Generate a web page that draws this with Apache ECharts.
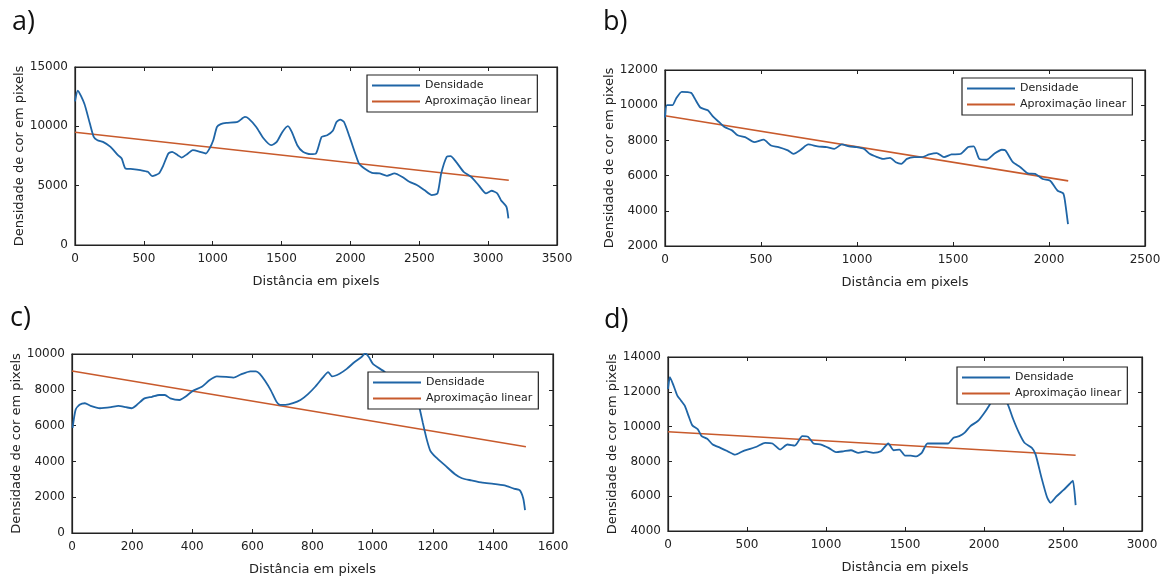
<!DOCTYPE html>
<html>
<head>
<meta charset="utf-8">
<script src="https://cdn.jsdelivr.net/npm/echarts@6/dist/echarts.min.js"></script>
<style>
html,body{margin:0;padding:0;background:#fff;}
#chart{width:1168px;height:577px;}
</style>
</head>
<body>
<div id="chart"></div>
<script>
// ---- Data ----
const panelLabels = ['a)', 'b)', 'c)', 'd)'];
const seriesNames = ['Densidade', 'Aproximação linear'];
const xAxisName = 'Distância em pixels';
const yAxisName = 'Densidade de cor em pixels';

// Panel a
const aX = [0, 20, 68, 108, 136, 163, 203, 258, 312, 339, 366, 420, 475, 529, 560, 610, 637, 678, 705, 746, 773, 814, 855, 909, 950, 977, 1004, 1031, 1058, 1099, 1180, 1234, 1261, 1316, 1370, 1424, 1465, 1506, 1546, 1574, 1614, 1655, 1709, 1750, 1791, 1831, 1872, 1899, 1926, 1953, 1994, 2035, 2062, 2102, 2157, 2211, 2265, 2320, 2374, 2428, 2482, 2537, 2591, 2632, 2659, 2699, 2727, 2767, 2822, 2876, 2930, 2984, 3025, 3066, 3093, 3133, 3147];
const aY = [12100, 13000, 11900, 10230, 9110, 8830, 8690, 8270, 7570, 7290, 6450, 6400, 6310, 6170, 5800, 6030, 6590, 7710, 7850, 7570, 7370, 7650, 7990, 7850, 7710, 8130, 8830, 9950, 10180, 10290, 10370, 10790, 10650, 9950, 8970, 8410, 8690, 9530, 10010, 9530, 8410, 7850, 7650, 7710, 9110, 9250, 9620, 10370, 10570, 10370, 9110, 7710, 6870, 6450, 6080, 6030, 5830, 6030, 5750, 5330, 5050, 4630, 4210, 4350, 6030, 7430, 7490, 7010, 6170, 5750, 5050, 4350, 4570, 4350, 3780, 3220, 2240];
const aFitX = [0, 3150];
const aFitY = [9500, 5450];

// Panel b
const bX = [0, 10, 39, 58, 87, 136, 155, 184, 223, 252, 281, 310, 349, 378, 417, 465, 514, 552, 591, 640, 669, 707, 746, 795, 843, 882, 921, 959, 998, 1037, 1066, 1105, 1134, 1172, 1202, 1231, 1260, 1298, 1337, 1376, 1415, 1453, 1492, 1541, 1579, 1608, 1637, 1676, 1715, 1754, 1773, 1812, 1851, 1890, 1928, 1967, 2006, 2045, 2074, 2083, 2099];
const bY = [9300, 10000, 10000, 10380, 10760, 10700, 10380, 9870, 9710, 9330, 9050, 8760, 8570, 8290, 8190, 7900, 8040, 7710, 7620, 7430, 7240, 7470, 7770, 7660, 7620, 7520, 7770, 7660, 7620, 7520, 7240, 7050, 6950, 7010, 6760, 6670, 6950, 7050, 7050, 7200, 7280, 7050, 7200, 7240, 7620, 7660, 6950, 6900, 7240, 7470, 7430, 6760, 6480, 6130, 6100, 5810, 5710, 5140, 4990, 4570, 3240];
const bFitX = [0, 2100];
const bFitY = [9400, 5700];

// Panel c
const cX = [2, 12, 25, 43, 62, 93, 130, 154, 179, 198, 216, 241, 266, 290, 309, 327, 358, 377, 402, 432, 457, 482, 513, 537, 562, 593, 612, 624, 642, 661, 680, 692, 710, 735, 760, 785, 809, 834, 852, 865, 890, 914, 939, 964, 976, 988, 1001, 1040, 1080, 1120, 1149, 1155, 1167, 1180, 1192, 1211, 1242, 1273, 1297, 1328, 1365, 1402, 1439, 1470, 1489, 1501, 1507];
const cY = [5870, 6880, 7160, 7250, 7100, 6970, 7030, 7100, 7030, 6970, 7160, 7520, 7610, 7710, 7710, 7520, 7430, 7610, 7940, 8170, 8530, 8750, 8720, 8680, 8860, 9030, 9030, 8900, 8500, 7980, 7340, 7160, 7160, 7250, 7430, 7760, 8170, 8680, 8990, 8750, 8900, 9170, 9540, 9850, 10040, 9820, 9450, 9000, 8400, 7800, 7430, 7060, 6150, 5230, 4590, 4220, 3760, 3300, 3060, 2940, 2810, 2750, 2660, 2480, 2390, 1930, 1280];
const cFitX = [0, 1510];
const cFitY = [9050, 4820];

// Panel d
const dX = [0, 12, 35, 59, 83, 106, 130, 154, 189, 213, 248, 283, 331, 378, 425, 472, 520, 567, 614, 661, 709, 756, 803, 850, 886, 921, 969, 1016, 1063, 1110, 1158, 1205, 1252, 1299, 1347, 1394, 1429, 1465, 1500, 1536, 1571, 1606, 1642, 1689, 1736, 1772, 1807, 1843, 1878, 1914, 1961, 1996, 2032, 2055, 2075, 2095, 2126, 2150, 2185, 2221, 2256, 2303, 2327, 2362, 2398, 2421, 2457, 2504, 2551, 2563, 2580];
const dY = [12160, 12840, 12360, 11780, 11490, 11200, 10620, 10070, 9840, 9450, 9300, 8970, 8780, 8580, 8390, 8580, 8720, 8870, 9070, 9030, 8680, 8970, 8910, 9450, 9420, 9030, 8970, 8780, 8530, 8580, 8640, 8490, 8580, 8490, 8580, 9030, 8640, 8680, 8330, 8330, 8290, 8490, 9030, 9030, 9030, 9030, 9360, 9450, 9650, 10030, 10320, 10710, 11200, 11580, 11850, 11950, 11580, 11290, 10420, 9650, 9070, 8780, 8390, 7130, 5970, 5620, 5970, 6360, 6790, 6900, 5490];
const dFitX = [0, 2580];
const dFitY = [9700, 8350];

// Axis ranges / ticks
const xMin = [0, 0, 0, 0];
const xMax = [3500, 2500, 1600, 3000];
const xStep = [500, 500, 200, 500];
const yMin = [0, 2000, 0, 4000];
const yMax = [15000, 12000, 10000, 14000];
const yStep = [5000, 2000, 2000, 2000];

// ---- Layout ----
const grids = [
  {left: 75, top: 67, width: 482, height: 178},
  {left: 665, top: 70, width: 480, height: 176},
  {left: 72, top: 354, width: 481, height: 179},
  {left: 668, top: 357, width: 474, height: 174}
];
const legendPos = [
  {left: 367, top: 75},
  {left: 962, top: 78},
  {left: 368, top: 372},
  {left: 957, top: 367}
];
const labelPos = [
  {left: 12, top: 9},
  {left: 603, top: 9},
  {left: 10, top: 305},
  {left: 604, top: 307}
];

const BLUE = '#1f65a6';
const ORANGE = '#c85a2c';
const FONT = 'DejaVu Sans';
const plain = v => String(v);

const zip = (xs, ys) => xs.map((x, i) => [x, ys[i]]);
const blues = [zip(aX, aY), zip(bX, bY), zip(cX, cY), zip(dX, dY)];
const fits = [zip(aFitX, aFitY), zip(bFitX, bFitY), zip(cFitX, cFitY), zip(dFitX, dFitY)];

const option = {
  animation: false,
  backgroundColor: '#fff',
  grid: grids.map(g => Object.assign({show: true, borderColor: '#222', borderWidth: 1.2, backgroundColor: 'rgba(0,0,0,0)'}, g)),
  xAxis: [],
  yAxis: [],
  legend: [],
  series: [],
  graphic: []
};

for (let i = 0; i < 4; i++) {
  option.xAxis.push({
    type: 'value', gridIndex: i, min: xMin[i], max: xMax[i], interval: xStep[i],
    name: xAxisName, nameLocation: 'middle', nameGap: 30,
    nameTextStyle: {fontFamily: FONT, fontSize: 13, color: '#222'},
    axisLine: {show: true, onZero: false, lineStyle: {color: '#222', width: 1.2}},
    axisTick: {show: true, inside: true, length: 4, lineStyle: {color: '#222'}},
    axisLabel: {fontFamily: FONT, fontSize: 12, color: '#222', margin: 8, formatter: plain},
    splitLine: {show: false}
  });
  option.xAxis.push({
    type: 'value', gridIndex: i, position: 'top', min: xMin[i], max: xMax[i], interval: xStep[i],
    axisLine: {show: true, onZero: false, lineStyle: {color: '#222', width: 1.2}},
    axisTick: {show: true, inside: true, length: 4, lineStyle: {color: '#222'}},
    axisLabel: {show: false}, splitLine: {show: false}
  });
  option.yAxis.push({
    type: 'value', gridIndex: i, min: yMin[i], max: yMax[i], interval: yStep[i],
    name: yAxisName, nameLocation: 'middle', nameGap: 47, nameRotate: 90,
    nameTextStyle: {fontFamily: FONT, fontSize: 13, color: '#222'},
    axisLine: {show: true, onZero: false, lineStyle: {color: '#222', width: 1.2}},
    axisTick: {show: true, inside: true, length: 4, lineStyle: {color: '#222'}},
    axisLabel: {fontFamily: FONT, fontSize: 12, color: '#222', margin: 7, formatter: plain},
    splitLine: {show: false}
  });
  option.yAxis.push({
    type: 'value', gridIndex: i, position: 'right', min: yMin[i], max: yMax[i], interval: yStep[i],
    axisLine: {show: true, onZero: false, lineStyle: {color: '#222', width: 1.2}},
    axisTick: {show: true, inside: true, length: 4, lineStyle: {color: '#222'}},
    axisLabel: {show: false}, splitLine: {show: false}
  });
  option.series.push({
    name: seriesNames[0], type: 'line', xAxisIndex: 2 * i, yAxisIndex: 2 * i,
    data: blues[i], symbol: 'none', smooth: 0.2, clip: true,
    lineStyle: {color: BLUE, width: 1.8}, itemStyle: {color: BLUE}, z: 3
  });
  option.series.push({
    name: seriesNames[1], type: 'line', xAxisIndex: 2 * i, yAxisIndex: 2 * i,
    data: fits[i], symbol: 'none', clip: true,
    lineStyle: {color: ORANGE, width: 1.6}, itemStyle: {color: ORANGE}, z: 2
  });
  option.legend.push(Object.assign({
    orient: 'vertical',
    data: [
      {name: seriesNames[0], icon: 'rect', itemStyle: {color: BLUE}},
      {name: seriesNames[1], icon: 'rect', itemStyle: {color: ORANGE}}
    ],
    backgroundColor: '#fff', borderColor: '#222', borderWidth: 1.2, borderRadius: 0,
    padding: [5, 6, 5, 5], itemGap: 5, itemWidth: 48, itemHeight: 2,
    textStyle: {fontFamily: FONT, fontSize: 11, color: '#222'},
    selectedMode: false, z: 10
  }, legendPos[i]));
  option.graphic.push({
    type: 'text', left: labelPos[i].left, top: labelPos[i].top,
    style: {text: panelLabels[i], font: '27px "Open Sans"', fill: '#111'}
  });
}

const chart = echarts.init(document.getElementById('chart'), null, {renderer: 'canvas'});
chart.setOption(option);
</script>
</body>
</html>
